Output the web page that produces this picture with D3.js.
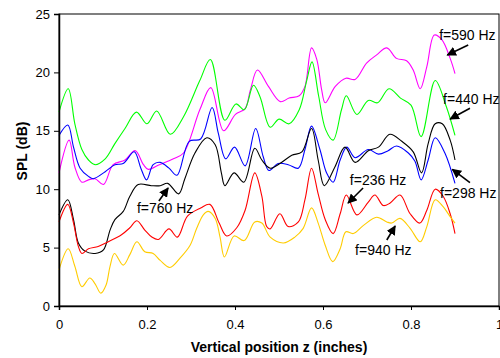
<!DOCTYPE html>
<html>
<head>
<meta charset="utf-8">
<script src="https://cdn.jsdelivr.net/npm/d3@7"></script>
<style>
  html, body { margin: 0; padding: 0; background: #fff; }
  svg { display: block; font-family: Arial, "Liberation Sans", sans-serif; }
</style>
</head>
<body>
<svg id="chart" width="500" height="358"></svg>
<script>
// data: [z (inches), SPL (dB)]
const f590 = [[0,11.4],[.023,14.2],[.036,11.9],[.052,10.6],[.067,10.8],[.082,10.9],[.101,10.4],[.123,12.1],[.15,12.5],[.173,13.3],[.192,12.1],[.203,11.7],[.228,12.1],[.26,12.6],[.283,13.1],[.32,16.8],[.345,18.7],[.374,15.0],[.401,16.4],[.423,16.9],[.435,18.5],[.451,20.2],[.476,18.8],[.503,17.5],[.523,17.8],[.546,18.0],[.559,18.8],[.574,22.1],[.586,21.1],[.597,18.5],[.605,17.4],[.628,18.8],[.652,19.5],[.673,19.4],[.699,20.8],[.722,21.5],[.745,22.1],[.767,21.2],[.79,21.0],[.805,20.2],[.821,18.6],[.836,20.5],[.853,23.2],[.87,22.8],[.889,21.2],[.9,19.9]];
const f440 = [[0,16.6],[.021,18.6],[.036,15.6],[.052,13.4],[.067,12.5],[.082,12.1],[.105,12.6],[.127,13.9],[.15,15.2],[.176,16.6],[.2,15.6],[.222,16.7],[.253,14.7],[.283,16.2],[.32,19.3],[.344,21.1],[.377,15.9],[.402,17.3],[.421,16.8],[.442,18.9],[.457,17.9],[.48,15.3],[.5,16.0],[.523,15.6],[.546,16.8],[.563,19.3],[.575,20.9],[.59,18.0],[.606,15.1],[.623,14.2],[.642,16.8],[.653,18.0],[.677,16.4],[.703,17.6],[.724,17.4],[.75,18.6],[.776,17.8],[.8,17.2],[.823,14.5],[.855,19.3],[.88,17.1],[.9,14.6]];
const f298 = [[0,14.6],[.02,15.5],[.033,13.6],[.048,11.8],[.067,11.1],[.078,10.9],[.105,11.5],[.127,12.1],[.146,12.2],[.171,13.2],[.186,11.8],[.199,10.8],[.214,12.1],[.23,12.3],[.25,11.8],[.268,11.2],[.296,14.1],[.322,14.3],[.348,17.0],[.362,14.8],[.379,12.6],[.399,13.6],[.423,12.0],[.447,15.2],[.464,12.8],[.477,11.6],[.498,12.2],[.521,12.1],[.544,11.8],[.559,13.4],[.574,15.4],[.593,13.4],[.608,11.4],[.623,10.6],[.639,12.5],[.654,13.6],[.673,12.7],[.703,13.4],[.726,13.0],[.748,13.3],[.767,13.7],[.794,13.1],[.809,12.4],[.823,10.8],[.839,12.5],[.855,14.4],[.877,13.1],[.9,10.5]];
const f760 = [[0,7.8],[.02,9.1],[.033,7.4],[.044,5.4],[.059,4.7],[.082,4.5],[.101,4.8],[.116,6.5],[.127,7.4],[.146,8.1],[.161,9.4],[.18,10.4],[.21,10.3],[.23,10.3],[.247,10.5],[.272,9.6],[.286,10.9],[.309,13.1],[.336,14.4],[.355,13.8],[.369,11.4],[.377,10.3],[.398,11.4],[.42,10.6],[.445,13.5],[.461,12.5],[.48,11.8],[.502,12.2],[.529,12.9],[.552,13.2],[.574,15.2],[.589,12.5],[.603,10.3],[.627,11.9],[.65,13.6],[.673,12.3],[.703,13.3],[.726,13.6],[.752,14.7],[.779,14.1],[.805,13.2],[.824,11.4],[.839,13.9],[.855,15.6],[.871,15.6],[.889,14.2],[.9,12.5]];
const f236 = [[0,7.2],[.02,8.7],[.033,7.1],[.044,5.1],[.052,4.5],[.067,4.9],[.089,5.1],[.112,5.5],[.142,6.1],[.161,6.7],[.177,7.3],[.195,6.5],[.211,5.9],[.226,5.7],[.25,6.6],[.269,5.9],[.292,7.7],[.322,8.4],[.343,8.7],[.364,7.1],[.381,6.0],[.404,6.7],[.423,8.2],[.445,11.4],[.461,9.4],[.472,6.8],[.48,6.6],[.502,7.9],[.521,6.8],[.544,7.2],[.559,9.1],[.574,11.8],[.589,9.6],[.605,7.4],[.623,6.2],[.639,7.9],[.653,9.5],[.677,7.8],[.703,8.9],[.718,9.5],[.737,8.6],[.752,8.8],[.775,9.5],[.798,7.9],[.82,7.1],[.836,8.2],[.855,10.0],[.873,9.4],[.889,7.9],[.9,6.2]];
const f940 = [[0,3.1],[.021,4.9],[.036,3.4],[.052,1.65],[.07,2.4],[.082,1.9],[.095,1.1],[.107,1.8],[.116,3.4],[.126,4.5],[.146,3.5],[.161,4.4],[.177,5.5],[.195,4.65],[.214,4.5],[.23,3.9],[.252,3.3],[.275,4.1],[.298,5.2],[.313,6.65],[.328,7.8],[.339,8.1],[.355,7.5],[.366,5.9],[.376,4.2],[.398,6.0],[.421,5.6],[.445,7.2],[.461,7.1],[.48,5.9],[.51,5.4],[.536,5.9],[.555,6.65],[.574,8.4],[.589,7.1],[.605,5.2],[.622,3.8],[.639,4.9],[.652,6.35],[.669,6.2],[.692,6.9],[.722,7.6],[.745,7.2],[.756,7.1],[.775,7.5],[.798,6.65],[.821,5.5],[.836,6.8],[.855,9.1],[.873,8.5],[.889,7.65],[.9,7.1]];

const seriesNames = ["f=590 Hz", "f=440 Hz", "f=298 Hz", "f=760 Hz", "f=236 Hz", "f=940 Hz"];
const seriesValues = [f590, f440, f298, f760, f236, f940];
const xTicks = [0, 0.2, 0.4, 0.6, 0.8, 1];
const yTicks = [0, 5, 10, 15, 20, 25];

// styles and label placement (data units)
const colors = ["#ff00ff", "#00ff00", "#0000ff", "#000000", "#ff0000", "#ffcc00"];
const labelPos = [
  { text: [.864, 22.77], tail: [.930, 22.35], head: [.8825, 21.49] },
  { text: [.873, 17.29], tail: [.934, 16.93], head: [.889, 16.01] },
  { text: [.866, 9.25], tail: [.934, 10.56], head: [.894, 11.70] },
  { text: [.177, 7.96], tail: [.227, 8.99], head: [.248, 10.10] },
  { text: [.661, 10.36], tail: [.691, 10.10], head: [.657, 8.82] },
  { text: [.673, 4.37], tail: [.745, 5.65], head: [.764, 6.85] },
];

const svg = d3.select("#chart");
const margin = { top: 14, right: 1, bottom: 52, left: 59 };
const W = 500, H = 358;
const innerW = W - margin.left - margin.right;
const innerH = H - margin.top - margin.bottom;

const x = d3.scaleLinear().domain([0, 1]).range([margin.left, margin.left + innerW]);
const y = d3.scaleLinear().domain([0, 25]).range([margin.top + innerH, margin.top]);

svg.append("defs").append("marker")
  .attr("id", "arrow")
  .attr("viewBox", "0 0 10 10")
  .attr("refX", 9).attr("refY", 5)
  .attr("markerWidth", 6).attr("markerHeight", 6)
  .attr("markerUnits", "strokeWidth")
  .attr("orient", "auto")
  .append("path").attr("d", "M0,0L10,5L0,10z").attr("fill", "#000");

// plot frame
svg.append("rect")
  .attr("x", margin.left).attr("y", margin.top)
  .attr("width", innerW).attr("height", innerH)
  .attr("fill", "none").attr("stroke", "#000").attr("stroke-width", 1);

const line = d3.line()
  .x((d) => x(d[0]))
  .y((d) => y(d[1]))
  .curve(d3.curveCatmullRom.alpha(0.5));

svg.append("g")
  .selectAll("path")
  .data(seriesValues)
  .join("path")
  .attr("fill", "none")
  .attr("stroke", (_d, i) => colors[i])
  .attr("stroke-width", 1.1)
  .attr("d", line);

const gx = svg.append("g")
  .attr("transform", `translate(0,${margin.top + innerH})`)
  .call(d3.axisBottom(x).tickValues(xTicks).tickFormat((d) => String(d)).tickSize(4).tickPadding(10));
const gy = svg.append("g")
  .attr("transform", `translate(${margin.left},0)`)
  .call(d3.axisLeft(y).tickValues(yTicks).tickSize(5).tickPadding(4));

[gx, gy].forEach((g) => {
  g.select(".domain").attr("stroke", "#000").attr("stroke-width", 1.5);
  g.selectAll(".tick line").attr("stroke", "#000");
  g.selectAll("text").attr("fill", "#000").style("font-size", "13px").style("font-family", "Arial, 'Liberation Sans', sans-serif");
});

svg.append("text")
  .attr("x", x(0.5)).attr("y", 352)
  .attr("text-anchor", "middle")
  .attr("font-size", 14).attr("font-weight", "bold")
  .text("Vertical position z (inches)");

svg.append("text")
  .attr("transform", `translate(27,${151}) rotate(-90)`)
  .attr("text-anchor", "middle")
  .attr("font-size", 14).attr("font-weight", "bold")
  .text("SPL (dB)");

const ann = svg.append("g");
labelPos.forEach((p, i) => {
  ann.append("line")
    .attr("x1", x(p.tail[0])).attr("y1", y(p.tail[1]))
    .attr("x2", x(p.head[0])).attr("y2", y(p.head[1]))
    .attr("stroke", "#000").attr("stroke-width", 1.6)
    .attr("marker-end", "url(#arrow)");
  ann.append("text")
    .attr("x", x(p.text[0])).attr("y", y(p.text[1]))
    .attr("font-size", 14).attr("fill", "#000")
    .text(seriesNames[i]);
});
</script>
</body>
</html>
